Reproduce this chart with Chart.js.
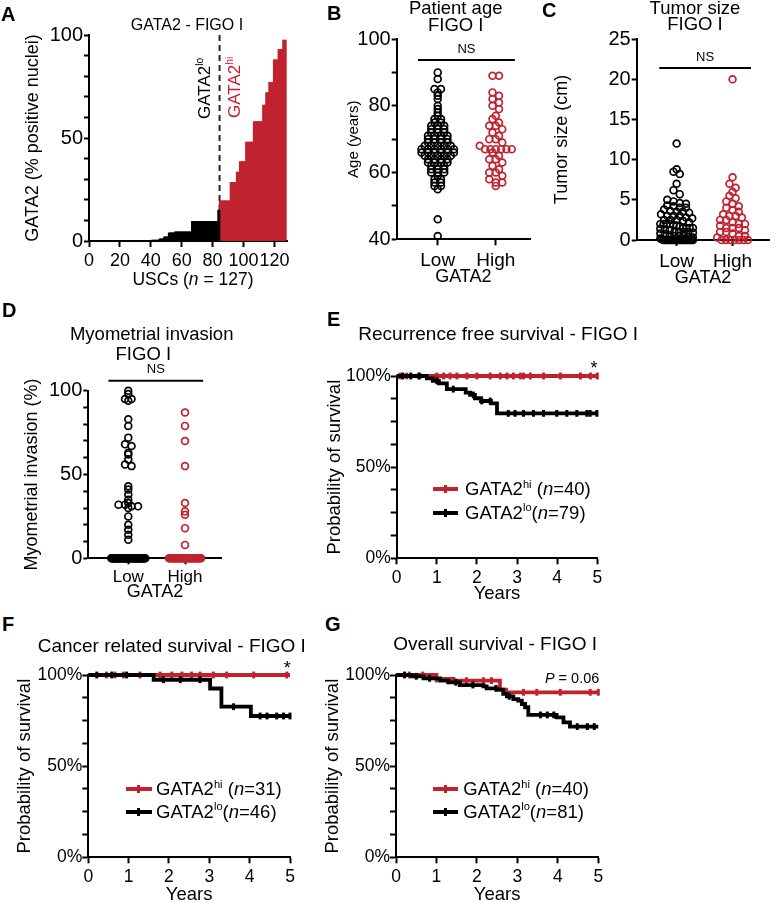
<!DOCTYPE html>
<html><head><meta charset="utf-8">
<script src="https://cdn.jsdelivr.net/npm/chart.js@4.4.0/dist/chart.umd.min.js"></script>
<style>
html,body{margin:0;padding:0;background:#fff;}
#fig{position:relative;width:775px;height:902px;overflow:hidden;font-family:'Liberation Sans',Arial,Helvetica,sans-serif;color:#000;background:#fff;}
canvas{position:absolute;}
.t{position:absolute;line-height:1;white-space:nowrap;}
sup{font-size:0.6em;vertical-align:baseline;position:relative;top:-0.65em;}
</style></head><body><div id="fig"></div>
<script>
// ---------------- DATA ----------------
// Panel A: GATA2 % positive nuclei, sorted, per USC (n = 127)
const A_LO = [0,0,0,0,0,0,0,0,0,0, 0,0,0,0,0,0,0,0,0,0, 0,0,0,0,0,0,0,0,0,0, 0,0,0,0,0,0,0,0,0,0,
  0.5,0.5,0.5,0.5,0.5, 1,1,1, 2,2,2, 4,4,4,4, 4.5,4.5,4.5,4.5,4.5,4.5,4.5,4.5,4.5,4.5,4.5,
  9.5,9.5,9.5,9.5,9.5,9.5,9.5,9.5,9.5,9.5,9.5,9.5,9.5,9.5,9.5,9.5,9.5, 15];
const A_HI = [19.5,19.5,19.5,19.5,19.5,19.5,19.5, 28.5,28.5,28.5,28.5, 33.5,33.5, 38.5,38.5,38.5,38.5,
  48,48,48,48,48, 58,58,58,58,58,58, 66,66, 72,72, 77,77,77, 88,88,88, 93,93,93, 97.5,97.5];
const A_XTICKS = [0,20,40,60,80,100,120];

const CATEGORIES = ['Low','High'];

// Panel B: patient age (years)
const B_LOW = [90,88,85,85,84,83,82,80,79,78,77,76,76,75,75,74,74,74,73,73,73,72,72,72,71,71,71,71,
  70,70,70,70,69,69,69,69,68,68,68,68,68,67,67,67,67,67,67,66,66,66,66,66,66,65,65,65,65,65,
  64,64,64,64,63,63,63,63,62,62,62,61,61,61,60,60,60,59,58,58,57,57,56,56,55,46,41];
const B_HIGH = [89,89,84,83,82,81,80,79,77,76,75,74,74,73,72,71,70,70,69,68,67,67,67,67,67,67,
  66,65,64,64,63,62,61,60,60,59,58,57,57,56];

// Panel C: tumor size (cm)
const C_LOW = [12,8.8,8.5,8.2,7,6.2,5.7,5,4.8,4.6,4.5,4.3,4.2,4,4,3.8,3.6,3.5,3.5,3.4,3.2,3,3,3,
  2.8,2.7,2.5,2.5,2.5,2.4,2.2,2,2,2,2,1.9,1.8,1.7,1.5,1.5,1.5,1.5,1.4,1.3,1.2,1,1,1,1,0.9,0.8,
  0.7,0.6,0.5,0.5,0.5,0.4,0.3,0.2,0.1, 0,0,0,0,0,0,0,0,0,0,0,0,0,0,0,0,0,0,0,0];
const C_HIGH = [20,7.8,7,6.5,6,5.5,5.2,4.8,4.5,4.2,4,3.7,3.5,3.2,3,3,2.8,2.5,2.5,2.2,2,2,1.8,
  1.5,1.5,1.5,1.2,1,1,0.8,0.5,0.5,0.3,0,0,0,0,0,0,0];

// Panel D: myometrial invasion (%)
const D_LOW = [100,98,95,95,94,83,79,72,68,67,63,62,59,56,55,43,41,38,35,33,32,32,31,31,30,25,20,17,14,11,
  0,0,0,0,0,0,0,0,0,0, 0,0,0,0,0,0,0,0,0,0, 0,0,0,0,0,0,0,0,0,0, 0,0,0,0,0,0,0,0,0,0, 0,0,0,0,0,0,0,0,0,0];
const D_HIGH = [87,79,70,55,33,28,26,18,8, 0,0,0,0,0,0,0,0,0,0, 0,0,0,0,0,0,0,0,0,0, 0,0,0,0,0,0,0,0,0,0,0,0];

// NS comparison bars (data units)
const B_NS = {x0:0.66, x1:2.33, y:93.7};
const C_NS = {x0:0.69, x1:2.33, y:21.4};
const D_NS = {x0:0.65, x1:2.32, y:105.9};

// Panel E: recurrence free survival (years, % surviving)
const E_LO_T = [0,0.75,0.9,1.05,1.25,1.72,1.83,1.95,2.1,2.35,2.5,5];
const E_LO_S = [100,98.7,97.4,96.0,92.8,90.9,89.6,87.8,86.3,85.0,79.5,79.5];
const E_LO_CENS = [0.15,0.35,0.55,1.0,1.41,1.91,2.12,2.33,2.78,2.95,3.16,3.41,3.66,3.99,4.24,4.49,4.74,4.82,4.99];
const E_HI_T = [0,5];
const E_HI_S = [100,100];
const E_HI_CENS = [0.08,0.25,0.58,1.0,1.17,1.33,1.5,1.75,2.0,2.33,2.58,2.75,2.91,3.08,3.16,3.33,3.66,4.08,4.58,4.83,5.0];

// Panel F: cancer related survival
const F_LO_T = [0,1.62,3.02,3.3,4.03,5];
const F_LO_S = [100,97.4,92.6,82.6,77.5,77.5];
const F_LO_CENS = [0.21,0.58,0.95,1.86,2.28,2.77,3.6,4.26,4.43,4.67,4.84,5.0];
const F_HI_T = [0,5];
const F_HI_S = [100,100];
const F_HI_CENS = [0.45,0.66,0.87,1.28,1.78,2.07,2.32,2.56,2.77,3.1,3.43,4.1,4.92];

// Panel G: overall survival
const G_LO_T = [0,0.39,0.68,1.09,1.29,1.58,2.16,2.24,2.49,2.65,2.74,2.9,3.02,3.11,3.19,3.27,3.97,4.14,4.3,5];
const G_LO_S = [100,99.3,98.2,96.9,96.0,94.5,93.8,92.7,92.0,89.6,88.3,86.8,85.9,84.1,82.3,78.1,76.8,74.0,71.7,71.7];
const G_LO_CENS = [0.21,0.5,0.83,1.48,1.9,2.47,2.8,3.57,3.74,3.9,4.48,4.73,4.9];
const G_HI_T = [0,1.0,1.42,2.57,2.72,5];
const G_HI_S = [100,97.8,96.9,92.0,90.5,90.5];
const G_HI_CENS = [0.33,0.66,1.0,1.74,2.16,2.36,3.15,3.48,4.06,4.8,5.0];

const SURV_TICKS_Y = 12.5;

// ---------------- STYLE / LAYOUT ----------------
const FONT = "'Liberation Sans', Arial, Helvetica, sans-serif";
const RED = '#c0232f';
const BLACK = '#000000';
const fig = document.getElementById('fig');

function addCanvas(cv){
  const c = document.createElement('canvas');
  c.width = cv.w; c.height = cv.h;
  c.style.left = cv.x+'px'; c.style.top = cv.y+'px';
  c.style.width = cv.w+'px'; c.style.height = cv.h+'px';
  fig.appendChild(c); return c;
}
function txt(html, x, yc, size, o){
  o = o || {};
  const d = document.createElement('div');
  d.className = 't'; d.innerHTML = html;
  d.style.fontSize = size+'px';
  if (o.bold) d.style.fontWeight = 'bold';
  if (o.color) d.style.color = o.color;
  if (o.rot){
    d.style.left = (x - 0.4885*size)+'px'; d.style.top = yc+'px';
    d.style.transformOrigin = '0 0'; d.style.transform = 'rotate(-90deg)';
  } else {
    d.style.left = x+'px'; d.style.top = (yc - 0.4885*size)+'px';
    if (o.align==='c') d.style.transform = 'translateX(-50%)';
    if (o.align==='r') d.style.transform = 'translateX(-100%)';
  }
  fig.appendChild(d);
}
function legLine(x0,x1,y,color){
  const d = document.createElement('div');
  d.style.cssText = `position:absolute;left:${x0}px;top:${y-2}px;width:${x1-x0}px;height:4px;background:${color}`;
  fig.appendChild(d);
  const t = document.createElement('div');
  t.style.cssText = `position:absolute;left:${(x0+x1)/2-1.5}px;top:${y-4}px;width:3px;height:8px;background:${color}`;
  fig.appendChild(t);
}

function base(cv, plot){
  return {responsive:false, animation:false, devicePixelRatio:1,
    layout:{padding:{left:0, top:plot.t-cv.y, right:cv.x+cv.w-plot.r, bottom:0}},
    plugins:{legend:{display:false}, tooltip:{enabled:false}, title:{display:false}}};
}
function yAx(cv, plot, o){
  const lh = o.tsize*1.2;
  return {type:'linear', position:'left', min:o.min, max:o.max,
    ticks:{stepSize:o.step, autoSkip:false, color:'#000', font:{family:FONT,size:o.fs}, padding:o.pad, callback:o.label},
    grid:{drawOnChartArea:false, drawTicks:true, tickLength:o.tl||5, tickWidth:2, tickColor:'#000'},
    border:{display:true, color:'#000', width:2},
    title:{display:!!o.title, text:o.title||'', color:'#000', font:{family:FONT,size:o.tsize}, padding:{top:o.tx - cv.x - lh/2, bottom:0}},
    afterFit(s){ s.width = plot.l - cv.x; s.paddingTop=0; s.paddingBottom=0; s.paddingLeft=0; s.paddingRight=0; }
  };
}
function xAx(cv, plot, o){
  const ts = o.tsize||18, lh = ts*1.2;
  const ax = {type:'linear', position:'bottom', min:o.min, max:o.max, offset:false,
    ticks:{stepSize:o.step, autoSkip:false, maxRotation:0, minRotation:0, color:'#000', font:{family:FONT,size:o.fs}, padding:o.pad, callback:o.label},
    grid:{drawOnChartArea:false, offset:false, drawTicks:true, tickLength:6, tickWidth:2, tickColor:'#000'},
    border:{display:true, color:'#000', width:2},
    title:{display:!!o.title, text:o.title||'', color:'#000', font:{family:FONT,size:ts}, padding:{top:0, bottom: o.title ? (cv.y+cv.h - o.ty - lh/2) : 0}},
    afterFit(s){ s.height = cv.y+cv.h-plot.b; s.paddingTop=0; s.paddingBottom=0; s.paddingLeft=0; s.paddingRight=0; }
  };
  if (o.ticksArr) ax.afterBuildTicks = (s)=>{ s.ticks = o.ticksArr.map(v=>({value:v})); };
  return ax;
}

const nsPlugin = {id:'nsBar', afterDatasetsDraw(chart, args, opts){
  if (!opts || opts.y == null) return;
  const {ctx} = chart; const xs = chart.scales.x, ys = chart.scales.y;
  const py = ys.getPixelForValue(opts.y);
  const a = xs.getPixelForValue(opts.x0), b = xs.getPixelForValue(opts.x1);
  ctx.save(); ctx.strokeStyle='#000'; ctx.lineWidth=2;
  ctx.beginPath(); ctx.moveTo(a,py); ctx.lineTo(b,py); ctx.stroke();
  ctx.fillStyle='#000'; ctx.font = '13px '+FONT; ctx.textAlign='center'; ctx.textBaseline='middle';
  ctx.fillText('NS', (a+b)/2, py-11);
  ctx.restore();
}};

// beeswarm layout computed from the values
function swarm(vals, center, bin, spPx, halfPx, pxPerUnit){
  const bins = new Map();
  vals.forEach(v=>{ const k = Math.round(v/bin); if(!bins.has(k)) bins.set(k,[]); bins.get(k).push(v); });
  const pts = [];
  bins.forEach(arr=>{
    const n = arr.length; let sp = spPx;
    if (n>1 && (n-1)*sp/2 > halfPx) sp = 2*halfPx/(n-1);
    arr.forEach((v,k)=>pts.push({x: center + (k-(n-1)/2)*sp/pxPerUnit, y:v}));
  });
  return pts;
}
function dotSet(pts, color){
  return {data:pts, showLine:false, pointStyle:'circle', pointRadius:3.4, pointBorderWidth:1.7,
    pointBorderColor:color, pointBackgroundColor:'rgba(255,255,255,0)', clip:false};
}

// ---------------- PANEL A ----------------
{
  const cv = {x:0,y:0,w:295,h:300}, plot = {l:89,r:287.7,t:35,b:241};
  const o = base(cv, plot);
  o.scales = {
    x: xAx(cv, plot, {min:0, max:128.6, ticksArr:A_XTICKS, fs:18, pad:3, label:v=>v}),
    y: yAx(cv, plot, {min:0, max:100, step:10, fs:20, pad:1, label:v=>(v%50===0?v:''), title:'GATA2 (% positive nuclei)', tsize:18, tx:33})
  };
  const split = A_LO.length + 0.5;
  new Chart(addCanvas(cv), {type:'bar', data:{datasets:[
    {label:'GATA2lo', data:A_LO.map((v,i)=>({x:i+1,y:v})), backgroundColor:BLACK, barThickness:2.3, grouped:false},
    {label:'GATA2hi', data:A_HI.map((v,i)=>({x:A_LO.length+i+1,y:v})), backgroundColor:RED, barThickness:2.3, grouped:false},
    {type:'line', label:'cutoff', data:[{x:split,y:0},{x:split,y:100}], borderColor:'#222', borderWidth:2, borderDash:[6,4], pointRadius:0}
  ]}, options:o});
}

// ---------------- PANELS B, C, D ----------------
function dotPanel(cv, plot, xr, yo, low, high, bins, ns, xfs){
  const o = base(cv, plot);
  o.scales = {
    x: xAx(cv, plot, {min:xr[0], max:xr[1], ticksArr:[1,2], fs:xfs, pad:xfs<18?3:4, label:v=>CATEGORIES[v-1], title:'GATA2', tsize:18, ty:yo.xty}),
    y: yAx(cv, plot, yo)
  };
  o.plugins.nsBar = ns;
  const ppu = (plot.r-plot.l)/(xr[1]-xr[0]);
  new Chart(addCanvas(cv), {type:'scatter', data:{datasets:[
    dotSet(swarm(low, 1, bins[0], 6.5, 17, ppu), BLACK),
    dotSet(swarm(high, 2, bins[1], 6.5, 16, ppu), RED)
  ]}, options:o, plugins:[nsPlugin]});
}
dotPanel({x:300,y:0,w:240,h:292}, {l:396.7,r:530,t:39,b:239.3}, [0.293,2.59],
  {min:40,max:100,step:10,fs:20,pad:1,label:v=>(v%20===0?v:''),title:'Age (years)',tsize:15,tx:354,xty:277.5},
  B_LOW, B_HIGH, [1,2], B_NS, 19);
dotPanel({x:545,y:0,w:230,h:295}, {l:636.7,r:775,t:39,b:240}, [0.286,2.657],
  {min:0,max:25,step:5,fs:20,pad:1,label:v=>v,title:'Tumor size (cm)',tsize:18,tx:561.7,xty:278.5},
  C_LOW, C_HIGH, [0.6,0.75], C_NS, 19);
dotPanel({x:0,y:360,w:290,h:245}, {l:88.3,r:221.7,t:390.7,b:558.3}, [0.295,2.647],
  {min:0,max:100,step:10,fs:20,pad:1,label:v=>(v%50===0?v:''),title:'Myometrial invasion (%)',tsize:18,tx:31.7,xty:592.5},
  D_LOW, D_HIGH, [2,2], D_NS, 17);

// ---------------- PANELS E, F, G ----------------
function km(T,S){ return T.map((t,i)=>({x:t,y:S[i]})); }
function sAt(T,S,t){ let v=S[0]; for(let i=0;i<T.length;i++){ if(T[i]<=t) v=S[i]; } return v; }
function cens(T,S,C){ return C.map(t=>({x:t,y:sAt(T,S,t)})); }
function survPanel(cv, plot, tx, ty, lo, hi){
  const o = base(cv, plot);
  o.scales = {
    x: xAx(cv, plot, {min:0,max:5,step:1,fs:17.5,pad:3,label:v=>v,title:'Years',tsize:18.5,ty:ty}),
    y: yAx(cv, plot, {min:0,max:100,step:SURV_TICKS_Y,fs:17.5,pad:0,tl:6,label:v=>(v%50===0?v+'%':''),title:'Probability of survival',tsize:18.5,tx:tx})
  };
  const line = (d,c)=>({type:'line', data:d, stepped:true, borderColor:c, borderWidth:3.8, pointRadius:0, fill:false, clip:false});
  const tick = (d,c)=>({type:'line', data:d, showLine:false, pointStyle:'line', pointRotation:90, pointRadius:3.4, pointBorderWidth:3, pointBorderColor:c, clip:false});
  new Chart(addCanvas(cv), {type:'line', data:{datasets:[
    tick(cens(lo.T,lo.S,lo.C), BLACK), line(km(lo.T,lo.S), BLACK),
    tick(cens(hi.T,hi.S,hi.C), RED), line(km(hi.T,hi.S), RED)
  ]}, options:o});
}
survPanel({x:300,y:340,w:475,h:265}, {l:396.7,r:597.3,t:376,b:558.3}, 335, 594,
  {T:E_LO_T,S:E_LO_S,C:E_LO_CENS}, {T:E_HI_T,S:E_HI_S,C:E_HI_CENS});
survPanel({x:0,y:650,w:300,h:252}, {l:88.3,r:290,t:675,b:857.3}, 25, 895,
  {T:F_LO_T,S:F_LO_S,C:F_LO_CENS}, {T:F_HI_T,S:F_HI_S,C:F_HI_CENS});
survPanel({x:300,y:650,w:475,h:252}, {l:396,r:598.3,t:675,b:857.3}, 333.3, 895,
  {T:G_LO_T,S:G_LO_S,C:G_LO_CENS}, {T:G_HI_T,S:G_HI_S,C:G_HI_CENS});

// ---------------- TEXT ----------------
// panel letters
txt('A', 1, 13.5, 20, {bold:true});
txt('B', 327, 12.5, 20, {bold:true});
txt('C', 542, 10, 20, {bold:true});
txt('D', 2, 310, 20, {bold:true});
txt('E', 327, 318.3, 20, {bold:true});
txt('F', 2, 624, 20, {bold:true});
txt('G', 325, 624, 20, {bold:true});
// titles
txt('GATA2 - FIGO I', 187, 25.3, 16, {align:'c'});
txt('Patient age', 455.7, 8.3, 18.5, {align:'c'});
txt('FIGO I', 455.7, 25, 18.5, {align:'c'});
txt('Tumor size', 695, 8.5, 18.5, {align:'c'});
txt('FIGO I', 695, 24.5, 18.5, {align:'c'});
txt('Myometrial invasion', 151.7, 334, 18.5, {align:'c'});
txt('FIGO I', 143.3, 354, 18.5, {align:'c'});
txt('Recurrence free survival - FIGO I', 358.3, 333.3, 19);
txt('Cancer related survival - FIGO I', 37.7, 645, 19);
txt('Overall survival - FIGO I', 393.3, 643.3, 19);
// panel A extras
txt('USCs (<i>n</i> = 127)', 193, 280, 17.5, {align:'c'});
txt('GATA2<sup>lo</sup>', 204, 119, 17, {rot:true});
txt('GATA2<sup>hi</sup>', 234, 118.3, 17, {rot:true, color:RED});
// survival annotations
txt('*', 594, 368, 18, {align:'c'});
txt('*', 287.3, 668, 18, {align:'c'});
txt('<i>P</i> = 0.06', 599.3, 678.3, 14.5, {align:'r'});
// legends
legLine(433.3, 458.3, 489.3, RED); txt('GATA2<sup>hi</sup> (<i>n</i>=40)', 465, 489.3, 18.5);
legLine(433.3, 458.3, 512.7, BLACK); txt('GATA2<sup>lo</sup>(<i>n</i>=79)', 465, 512.7, 18.5);
legLine(126, 151.7, 789.3, RED); txt('GATA2<sup>hi</sup> (<i>n</i>=31)', 156, 789.3, 18.5);
legLine(126, 151.7, 811.7, BLACK); txt('GATA2<sup>lo</sup>(<i>n</i>=46)', 156, 811.7, 18.5);
legLine(433.3, 458.3, 789.3, RED); txt('GATA2<sup>hi</sup> (<i>n</i>=40)', 463.3, 789.3, 18.5);
legLine(433.3, 458.3, 811.7, BLACK); txt('GATA2<sup>lo</sup>(<i>n</i>=81)', 463.3, 811.7, 18.5);
</script></body></html>
